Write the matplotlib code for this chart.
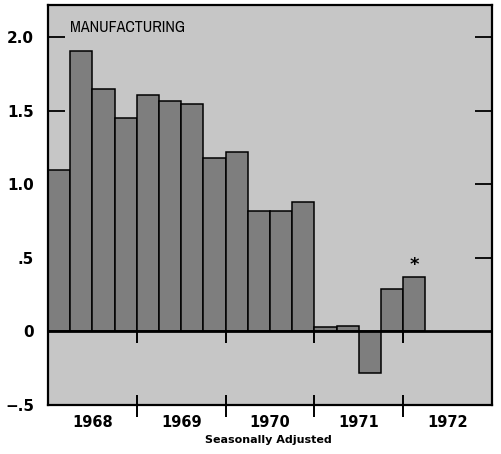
import matplotlib
matplotlib.use("Agg")
import matplotlib.pyplot as plt
from matplotlib import font_manager

quarters = ["1968Q1", "1968Q2", "1968Q3", "1968Q4",
            "1969Q1", "1969Q2", "1969Q3", "1969Q4",
            "1970Q1", "1970Q2", "1970Q3", "1970Q4",
            "1971Q1", "1971Q2", "1971Q3", "1971Q4",
            "1972Q1"]
values = [1.10, 1.91, 1.65, 1.45, 1.61, 1.57, 1.55, 1.18,
          1.22, 0.82, 0.82, 0.88, 0.03, 0.04, -0.28, 0.29, 0.37]
year_labels = ["1968", "1969", "1970", "1971", "1972"]
ytick_vals = [-0.5, 0, 0.5, 1.0, 1.5, 2.0]
ytick_labels = ["\u2212.5", "0", ".5", "1.0", "1.5", "2.0"]
title_text = "MANUFACTURING"
xlabel_text = "Seasonally Adjusted"

names = sorted({f.name for f in font_manager.fontManager.ttflist})
cond = [n for n in names if "Condensed" in n or "Narrow" in n]
narrow = cond[0] if cond else "DejaVu Sans"

fig = plt.figure(figsize=(5.01, 4.54), dpi=100)
ax = fig.add_axes([0.096, 0.108, 0.886, 0.881])
bg = "#c6c6c6"
barc = "#7e7e7e"
ax.set_facecolor(bg)

x = [i + 0.5 for i in range(len(values))]
ax.bar(x, values, width=1.0, color=barc, edgecolor="black", linewidth=1.1, zorder=3)

ax.set_xlim(0, 20)
ax.set_ylim(-0.5, 2.22)

# inward y ticks on both sides (drawn behind bars)
for yv in [0.5, 1.0, 1.5, 2.0]:
    ax.plot([0, 0.75], [yv, yv], color="black", lw=1.3, zorder=2, solid_capstyle="butt")
    ax.plot([19.25, 20], [yv, yv], color="black", lw=1.3, zorder=2, solid_capstyle="butt")

ax.axhline(0, color="black", lw=2.0, zorder=5)

# year separators
for xv in [4, 8, 12, 16]:
    ax.plot([xv, xv], [0, -0.08], color="black", lw=1.4, zorder=5, solid_capstyle="butt")
    ax.plot([xv, xv], [-0.43, -0.58], color="black", lw=1.4, zorder=5,
            solid_capstyle="butt", clip_on=False)

ax.set_yticks(ytick_vals)
ax.set_yticklabels(ytick_labels, fontsize=11, fontweight="bold")
ax.tick_params(axis="y", length=0, pad=10)
ax.set_xticks([2, 6, 10, 14, 18])
ax.set_xticklabels(year_labels, fontsize=10.5, fontweight="bold")
ax.tick_params(axis="x", length=0, pad=7)

for s in ax.spines.values():
    s.set_linewidth(1.6)
    s.set_zorder(6)

if cond:
    ax.text(1.0, 2.07, title_text, fontsize=11.5, fontweight="bold",
            family=[narrow, "DejaVu Sans"], ha="left", va="center", zorder=6)
else:
    ax.text(1.0, 2.07, title_text, fontsize=10, family="DejaVu Sans",
            ha="left", va="center", zorder=6)
ax.text(16.5, 0.39, "*", fontsize=13, fontweight="bold", ha="center", va="bottom", zorder=6)

fig.text(0.535, 0.03, xlabel_text, fontsize=8, fontweight="bold", ha="center", va="center")

fig.savefig("out.png", dpi=100)
